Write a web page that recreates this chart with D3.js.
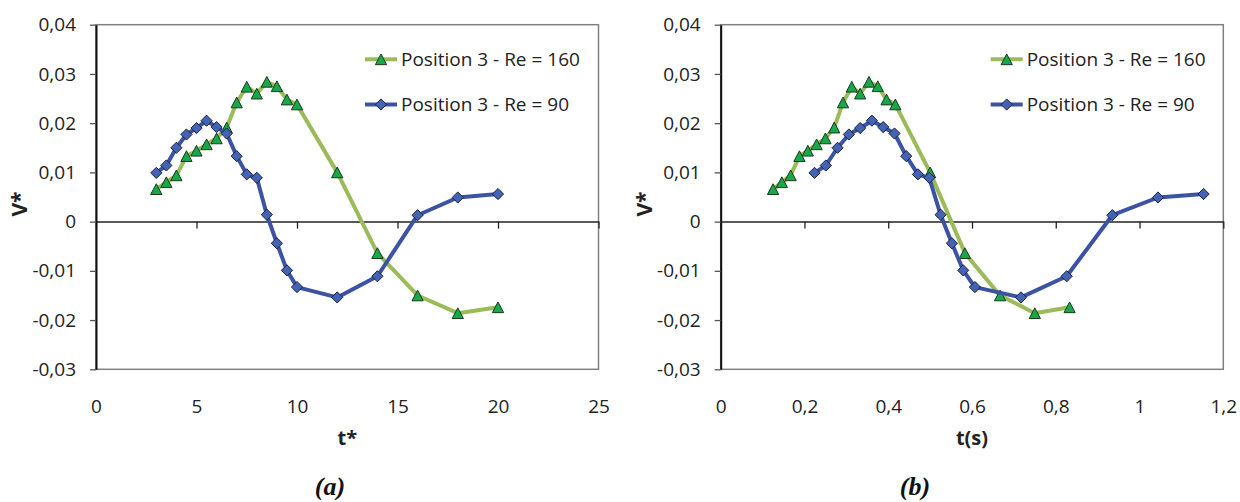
<!DOCTYPE html>
<html><head><meta charset="utf-8">
<script src="https://cdn.jsdelivr.net/npm/d3@7"></script>
<style>body{margin:0;background:#fff} svg{display:block;background:#fff}</style>
</head><body><svg id="c" width="1240" height="502"></svg>
<script>
// ---------------- data ----------------
const seriesNames = ["Position 3 - Re = 160", "Position 3 - Re = 90"];
const tStarRe160 = [3, 3.5, 4, 4.5, 5, 5.5, 6, 6.5, 7, 7.5, 8, 8.5, 9, 9.5, 10, 12, 14, 16, 18, 20];
const tStarRe90  = [3, 3.5, 4, 4.5, 5, 5.5, 6, 6.5, 7, 7.5, 8, 8.5, 9, 9.5, 10, 12, 14, 16, 18, 20];
const vRe160 = [0.0066, 0.0080, 0.0094, 0.0133, 0.0144, 0.0157, 0.0169, 0.0191, 0.0242, 0.0274, 0.0260, 0.0284, 0.0275, 0.0248, 0.0238, 0.0100, -0.0064, -0.0150, -0.0186, -0.0174];
const vRe90  = [0.0099, 0.0114, 0.0150, 0.0177, 0.0190, 0.0205, 0.0192, 0.0179, 0.0133, 0.0096, 0.0089, 0.0014, -0.0044, -0.0099, -0.0133, -0.0154, -0.0111, 0.0013, 0.0049, 0.0056];
const tSecRe160 = [0.125, 0.146, 0.167, 0.188, 0.208, 0.229, 0.250, 0.271, 0.292, 0.313, 0.333, 0.354, 0.375, 0.396, 0.417, 0.500, 0.583, 0.667, 0.750, 0.833];
const tSecRe90  = [0.224, 0.251, 0.279, 0.306, 0.333, 0.361, 0.388, 0.415, 0.443, 0.471, 0.498, 0.525, 0.552, 0.579, 0.607, 0.717, 0.826, 0.935, 1.044, 1.153];
const yTicks  = [-0.03, -0.02, -0.01, 0, 0.01, 0.02, 0.03, 0.04];
const xTicksA = [0, 5, 10, 15, 20, 25];
const xTicksB = [0, 0.2, 0.4, 0.6, 0.8, 1, 1.2];
const xTitles = ["t*", "t(s)"];
const yTitle = "V*";
const panelLabels = ["(a)", "(b)"];

// ---------------- drawing ----------------
const svg = d3.select("#c");
const FONT = "'Open Sans', sans-serif";
const SERIF = "'Liberation Serif', 'Times New Roman', serif";
const GREEN_LINE = "#9bbb59", GREEN_FILL = "#16a84a", GREEN_STROKE = "#1d3a1d";
const BLUE_LINE = "#3c52a5", BLUE_FILL = "#4563b5", BLUE_STROKE = "#1b2340";
const fmt = d => d === 0 ? "0" : String(+d.toFixed(2)).replace(".", ",");

const triType = { draw(ctx, size) { const h = Math.sqrt(size) / 2; ctx.moveTo(0, -h); ctx.lineTo(h * 1.05, h); ctx.lineTo(-h * 1.05, h); ctx.closePath(); } };
const diaType = { draw(ctx, size) { const h = Math.sqrt(size) / 2; ctx.moveTo(0, -h); ctx.lineTo(h, 0); ctx.lineTo(0, h); ctx.lineTo(-h, 0); ctx.closePath(); } };
const triPath = d3.symbol().type(triType).size(115)();
const diaPath = d3.symbol().type(diaType).size(125)();

function panel(cfg) {
  const x = d3.scaleLinear().domain(cfg.xDomain).range([cfg.left, cfg.right]);
  const y = d3.scaleLinear().domain([-0.03, 0.04]).range([369.3, 24.7]);
  const g = svg.append("g");

  g.append("rect").attr("x", cfg.left).attr("y", y(0.04))
    .attr("width", cfg.right - cfg.left).attr("height", y(-0.03) - y(0.04))
    .attr("fill", "none").attr("stroke", "#808080").attr("stroke-width", 1.5);

  // x axis at zero, ticks downward, no labels
  const xa = g.append("g").attr("transform", `translate(0,${y(0)})`)
    .call(d3.axisBottom(x).tickValues(cfg.xTicks).tickSize(7).tickSizeOuter(0).tickFormat(""));
  xa.select(".domain").attr("stroke", "#222").attr("stroke-width", 1.5);
  xa.selectAll(".tick line").attr("stroke", "#222").attr("stroke-width", 1.3);

  // x tick labels at bottom
  const xl = g.append("g").attr("transform", `translate(0,${y(-0.03)})`)
    .call(d3.axisBottom(x).tickValues(cfg.xTicks).tickSize(0).tickPadding(30).tickFormat(fmt));
  xl.select(".domain").remove();
  xl.selectAll("text").attr("font-family", FONT).attr("font-size", 19).attr("fill", "#222");

  // y axis
  const ya = g.append("g").attr("transform", `translate(${cfg.left},0)`)
    .call(d3.axisLeft(y).tickValues(yTicks).tickSize(6).tickSizeOuter(0).tickPadding(14).tickFormat(fmt));
  ya.select(".domain").attr("stroke", "#111").attr("stroke-width", 2);
  ya.selectAll(".tick line").attr("stroke", "#555").attr("stroke-width", 1.3);
  ya.selectAll("text").attr("font-family", FONT).attr("font-size", 19).attr("fill", "#222");

  // titles
  g.append("text").attr("x", (cfg.left + cfg.right) / 2).attr("y", 445)
    .attr("text-anchor", "middle").attr("font-family", FONT).attr("font-weight", "bold")
    .attr("font-size", 20).attr("fill", "#222").text(cfg.xTitle);
  g.append("text").attr("transform", `translate(${cfg.yTitleX},204) rotate(-90)`)
    .attr("text-anchor", "middle").attr("font-family", FONT).attr("font-weight", "bold")
    .attr("font-size", 21).attr("fill", "#222").text(yTitle);
  g.append("text").attr("x", cfg.labelX).attr("y", 495)
    .attr("text-anchor", "middle").attr("font-family", SERIF).attr("font-weight", "bold")
    .attr("font-style", "italic").attr("font-size", 26).attr("fill", "#111").text(cfg.label);

  // series
  const line = d3.line().x(d => x(d[0])).y(d => y(d[1]));
  const series = [
    { pts: d3.zip(cfg.xs160, vRe160), lc: GREEN_LINE, fill: GREEN_FILL, st: GREEN_STROKE, sym: triPath },
    { pts: d3.zip(cfg.xs90, vRe90), lc: BLUE_LINE, fill: BLUE_FILL, st: BLUE_STROKE, sym: diaPath }
  ];
  series.forEach(s => {
    g.append("path").datum(s.pts).attr("d", line).attr("fill", "none")
      .attr("stroke", s.lc).attr("stroke-width", 4).attr("stroke-linejoin", "round");
    g.selectAll(null).data(s.pts).join("path")
      .attr("transform", d => `translate(${x(d[0])},${y(d[1])})`)
      .attr("d", s.sym).attr("fill", s.fill).attr("stroke", s.st).attr("stroke-width", 1);
  });

  // legend
  const lg = g.append("g");
  [[seriesNames[0], 59.3, series[0]], [seriesNames[1], 104.5, series[1]]].forEach(([name, ly, s]) => {
    lg.append("line").attr("x1", cfg.legX).attr("x2", cfg.legX + 32).attr("y1", ly).attr("y2", ly)
      .attr("stroke", s.lc).attr("stroke-width", 4);
    lg.append("path").attr("transform", `translate(${cfg.legX + 16},${ly})`).attr("d", s.sym)
      .attr("fill", s.fill).attr("stroke", s.st).attr("stroke-width", 1);
    lg.append("text").attr("x", cfg.legX + 36).attr("y", ly).attr("dy", "0.36em")
      .attr("font-family", FONT).attr("font-size", 19).attr("fill", "#222").text(name);
  });
}

panel({ xDomain: [0, 25], left: 96, right: 598.5, xTicks: xTicksA, xTitle: xTitles[0],
  yTitleX: 27, labelX: 330, label: panelLabels[0], xs160: tStarRe160, xs90: tStarRe90, legX: 365 });
panel({ xDomain: [0, 1.2], left: 720.7, right: 1223.3, xTicks: xTicksB, xTitle: xTitles[1],
  yTitleX: 652, labelX: 915, label: panelLabels[1], xs160: tSecRe160, xs90: tSecRe90, legX: 990.7 });
</script>
</body></html>
